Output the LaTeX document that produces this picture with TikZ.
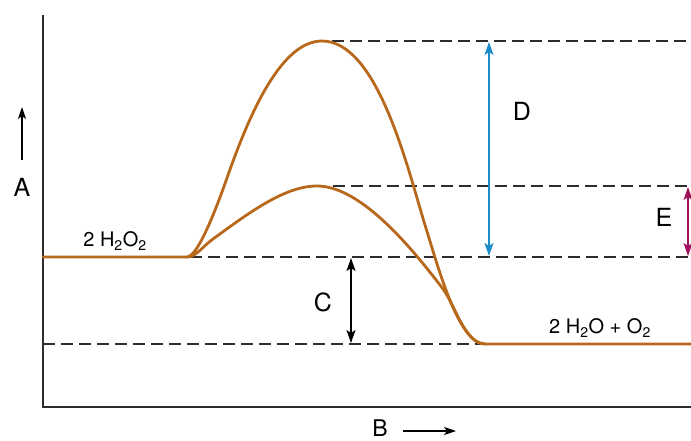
\documentclass[tikz,border=0pt]{standalone}
\usepackage{fontspec}
\setmainfont{TeX Gyre Heros}
\usetikzlibrary{arrows.meta}
\definecolor{curvec}{RGB}{184,104,26}
\definecolor{bluec}{RGB}{28,140,200}
\definecolor{magc}{RGB}{162,18,92}
\definecolor{darkc}{RGB}{45,45,45}
\begin{document}
\begin{tikzpicture}[x=1pt,y=-1pt,
  axisline/.style={line width=1.8pt,draw=darkc},
  dashline/.style={line width=1.6pt,draw=darkc,dash pattern=on 12pt off 6pt},
  curveline/.style={line width=2.8pt,draw=curvec,line join=round,line cap=round},
  dimarrow/.style={line width=1.3pt,{Stealth[length=13pt,width=9pt,inset=3pt]}-{Stealth[length=13pt,width=9pt,inset=3pt]}},
  axisarrow/.style={line width=1.3pt,-{Stealth[length=12pt,width=8pt,inset=3pt]}},
  biglabel/.style={font=\fontsize{25}{25}\selectfont,inner sep=0pt},
  chemlabel/.style={font=\fontsize{20}{20}\selectfont,inner sep=0pt}]
\useasboundingbox (0,0) rectangle (691,441);
% axes
\coordinate (axtop) at (43,15);
\coordinate (orig) at (43,407);
\coordinate (axend) at (691,407);
\draw[axisline] (axtop) -- (orig) -- (axend);
% dashed levels
\coordinate (t1) at (332,41);   \coordinate (t2) at (686,41);
\coordinate (m1) at (333,186);  \coordinate (m2) at (691,186);
\coordinate (r1) at (190,257);  \coordinate (r2) at (691,257);
\coordinate (p1) at (43,344);   \coordinate (p2) at (485,344);
\draw[dashline] (t1) -- (t2);
\draw[dashline] (m1) -- (m2);
\draw[dashline] (r1) -- (r2);
\draw[dashline] (p1) -- (p2);
% curves
\coordinate (start) at (187,257);
\coordinate (topk) at (322,41);
\coordinate (lowk) at (317,186);
\coordinate (fin) at (485,344);
\draw[curveline] (43,257) -- (start)
  .. controls (197,257) and (214,215) .. (227,178)
  .. controls (248,118) and (280,41) .. (topk)
  .. controls (378,41) and (408,170) .. (425,225)
  .. controls (437,263) and (458,344) .. (fin) -- (691,344);
\draw[curveline] (start)
  .. controls (196,257) and (202,247) .. (213,239)
  .. controls (250,212) and (285,186) .. (lowk)
  .. controls (355,186) and (400,232) .. (443,289)
  .. controls (455,305) and (465,344) .. (fin);
% dimension arrows
\coordinate (d1) at (489,42);  \coordinate (d2) at (489,256);
\coordinate (e1) at (688,187); \coordinate (e2) at (688,256);
\coordinate (c1) at (351,258); \coordinate (c2) at (351,343);
\draw[dimarrow,bluec] (d1) -- (d2);
\draw[dimarrow,magc] (e1) -- (e2);
\draw[dimarrow,black] (c1) -- (c2);
% axis arrows
\coordinate (a1) at (22,160); \coordinate (a2) at (22,107);
\coordinate (b1) at (403,431); \coordinate (b2) at (456,431);
\draw[axisarrow] (a1) -- (a2);
\draw[axisarrow] (b1) -- (b2);
% labels
\node[biglabel] (A) at (22,187) {A};
\node[biglabel,font=\fontsize{23}{23}\selectfont,text depth=0pt,anchor=base] (B) at (380,436) {B};
\node[biglabel] (C) at (323,302) {C};
\node[biglabel] (D) at (522,111) {D};
\node[biglabel] (E) at (664,217) {E};
\node[chemlabel] (react) at (115,241) {2 H\textsubscript{2}O\textsubscript{2}};
\node[chemlabel] (prod) at (600,328) {2 H\textsubscript{2}O + O\textsubscript{2}};
\end{tikzpicture}
\end{document}
